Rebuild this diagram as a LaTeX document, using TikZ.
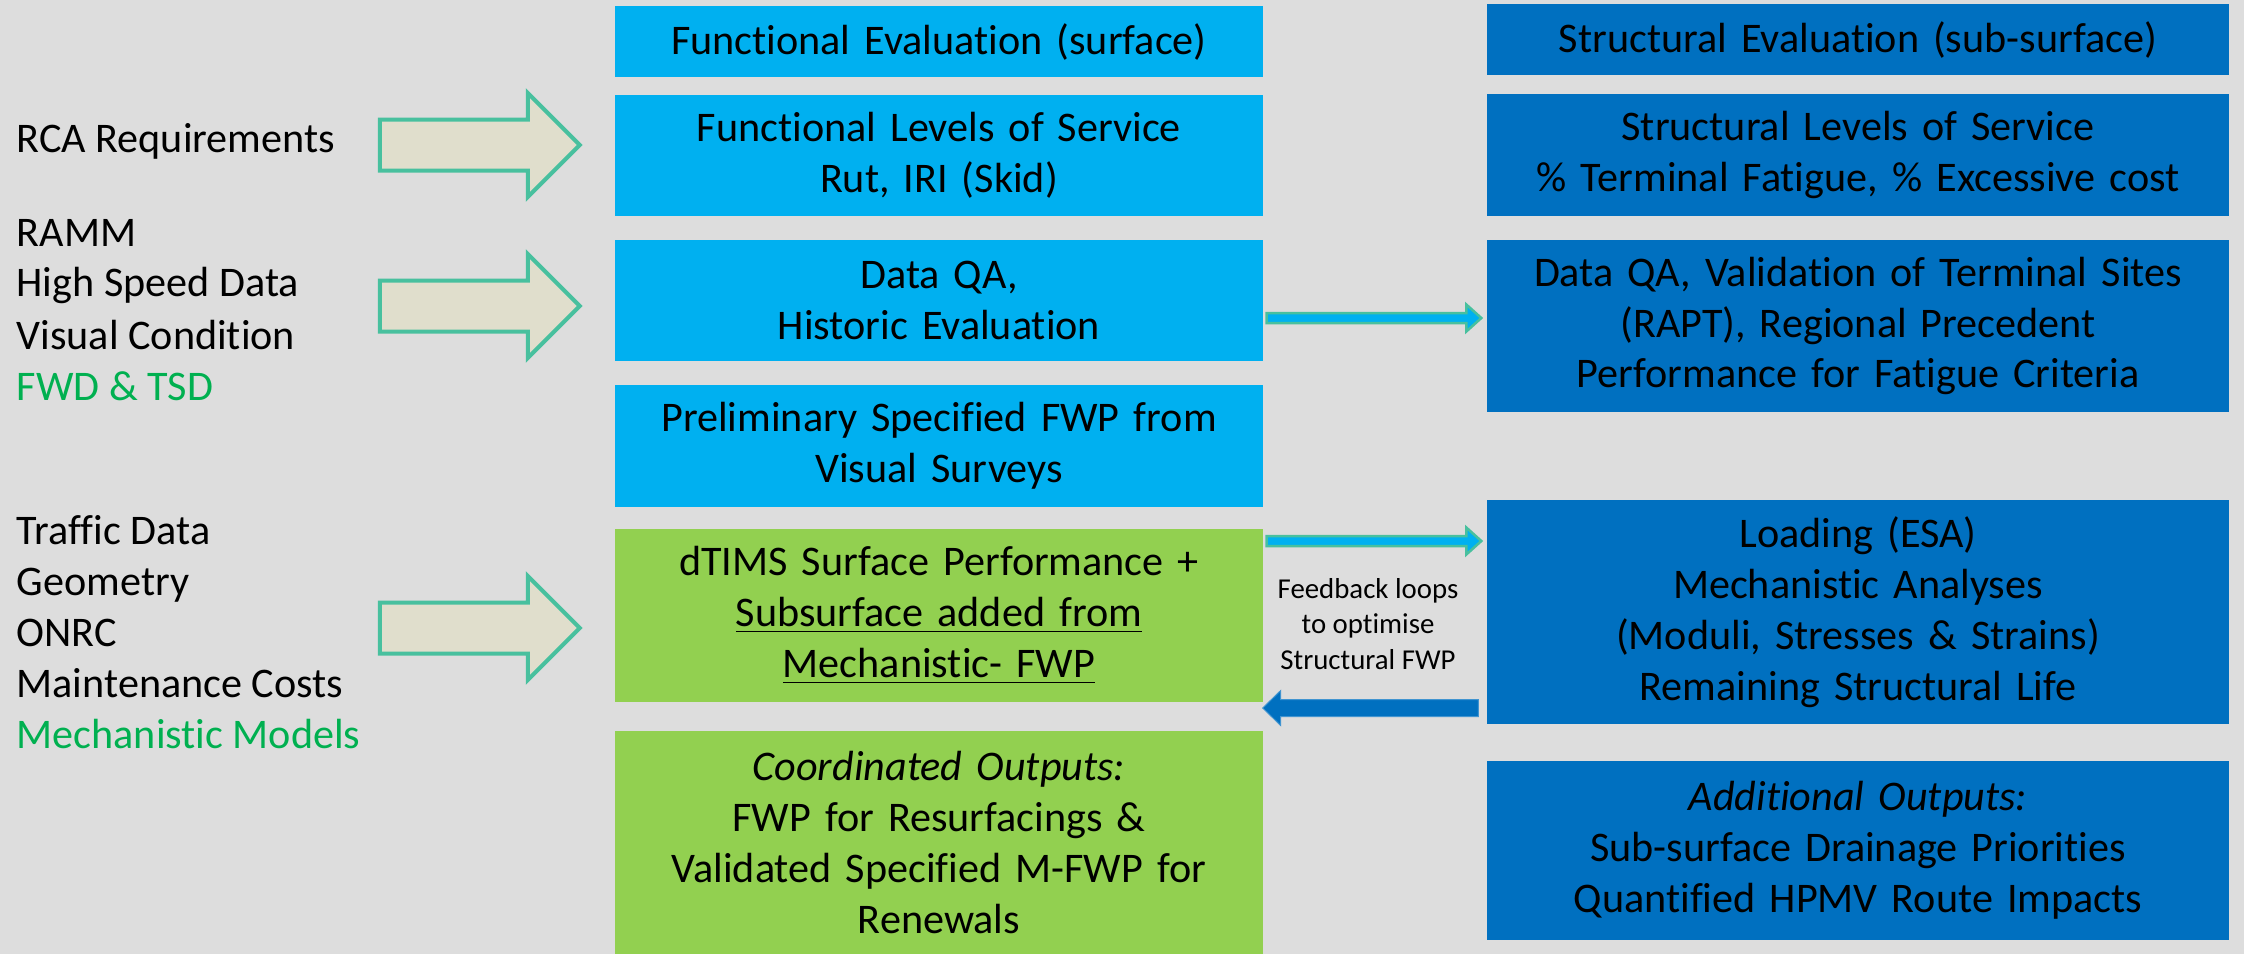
\documentclass[tikz,border=0pt]{standalone}
\usepackage{fontspec}
\setmainfont{Carlito}[Ligatures=NoCommon]
\usetikzlibrary{calc,shapes.arrows}

\definecolor{bggray}{RGB}{221,221,221}
\definecolor{skyblue}{RGB}{0,176,240}
\definecolor{deepblue}{RGB}{0,112,192}
\definecolor{leafgreen}{RGB}{146,208,80}
\definecolor{txtgreen}{RGB}{0,176,80}
\definecolor{tealline}{RGB}{72,192,158}
\definecolor{sandfill}{RGB}{224,222,204}

\tikzset{
  box/.style={rectangle, inner sep=0pt, align=center, text width=#1,
    font=\fontsize{12}{14.5}\selectfont},
  midbox/.style={box=62mm, minimum width=64.8mm, fill=skyblue},
  greenbox/.style={midbox, fill=leafgreen},
  rightbox/.style={box=72mm, minimum width=74.2mm, fill=deepblue},
  lefttxt/.style={anchor=base west, inner sep=0pt, font=\fontsize{12}{14.5}\selectfont},
  inarrow/.style={single arrow, draw=tealline, fill=sandfill, line width=0.4mm,
    minimum height=20mm, inner sep=2.35mm, single arrow head extend=2.65mm},
  fatarrow/.style n args={3}{to path={
    ($(\tikztostart)!#1!90:(\tikztotarget)$)
    -- ($($(\tikztotarget)!#3!(\tikztostart)$)!#1!-90:(\tikztostart)$)
    -- ($($(\tikztotarget)!#3!(\tikztostart)$)!#2!-90:(\tikztostart)$)
    -- (\tikztotarget)
    -- ($($(\tikztotarget)!#3!(\tikztostart)$)!#2!90:(\tikztostart)$)
    -- ($($(\tikztotarget)!#3!(\tikztostart)$)!#1!90:(\tikztostart)$)
    -- ($(\tikztostart)!#1!-90:(\tikztotarget)$) -- cycle}},
  fwdflow/.style={draw=tealline, fill=skyblue, line width=0.25mm},
  backflow/.style={draw=deepblue!75!white, fill=deepblue, line width=0.1mm},
}

\begin{document}
\begin{tikzpicture}[x=0.1mm, y=-0.1mm]
  \useasboundingbox (0,0) rectangle (2244,954);
  \fill[bggray] (0,0) rectangle (2244,954);

  % surface column
  \node[midbox, minimum height=7.1mm] (fEval) at (939,41.5) {Functional Evaluation (surface)};
  \node[midbox, minimum height=12.1mm] (fLos) at (939,155.5) {Functional Levels of Service\\Rut, IRI (Skid)};
  \node[midbox, minimum height=12.1mm] (fQA) at (939,300.5) {Data QA,\\Historic Evaluation};
  \node[midbox, minimum height=12.2mm] (fPre) at (939,446) {Preliminary Specified FWP from\\Visual Surveys};
  \node[greenbox, minimum height=17.3mm] (dtims) at (939,615.5)
    {dTIMS Surface Performance +\\\underline{Subsurface added from}\\\underline{Mechanistic- FWP}};
  \node[greenbox, minimum height=22.3mm] (coord) at (939,842.5)
    {\textit{Coordinated Outputs:}\\FWP for Resurfacings \&\\Validated Specified M-FWP for\\Renewals};

  % sub-surface column
  \node[rightbox, minimum height=7.1mm] (sEval) at (1858,39.5) {Structural Evaluation (sub-surface)};
  \node[rightbox, minimum height=12.2mm] (sLos) at (1858,155)
    {Structural Levels of Service\\\% Terminal Fatigue, \% Excessive cost};
  \node[rightbox, minimum height=17.2mm] (sQA) at (1858,326)
    {Data QA, Validation of Terminal Sites\\(RAPT), Regional Precedent\\Performance for Fatigue Criteria};
  \node[rightbox, minimum height=22.4mm] (load) at (1858,612)
    {Loading (ESA)\\Mechanistic Analyses\\(Moduli, Stresses \& Strains)\\Remaining Structural Life};
  \node[rightbox, minimum height=17.9mm] (addOut) at (1858,850.5)
    {\textit{Additional Outputs:}\\Sub-surface Drainage Priorities\\Quantified HPMV Route Impacts};

  % inputs
  \foreach \yy/\txt/\col [count=\i] in {152/RCA Requirements/black, 246/RAMM/black,
      296/High Speed Data/black, 349/Visual Condition/black, 400/FWD \& TSD/txtgreen,
      544/Traffic Data/black, 595/Geometry/black, 646/ONRC/black,
      697/Maintenance Costs/black, 748/Mechanistic Models/txtgreen}{
    \node[lefttxt, text=\col] (src\i) at (16,\yy) {\txt};
  }
  \foreach \yy [count=\i] in {145,306,628}{
    \node[inarrow] (in\i) at (467,\yy) {};
  }

  % links between the columns
  \coordinate (qaA) at ($(fQA.east)+(3,17.5)$);
  \coordinate (qaB) at ($(sQA.west)+(-5,-8)$);
  \coordinate (ldA) at ($(dtims.east)+(3,-74.5)$);
  \coordinate (ldB) at ($(load.west)+(-5,-71)$);
  \coordinate (bkA) at ($(load.west)+(-8,96)$);
  \coordinate (bkB) at ($(dtims.east)+(-1,92.5)$);
  \draw[fwdflow] (qaA) to[fatarrow={0.5mm}{1.35mm}{1.5mm}] (qaB);
  \draw[fwdflow] (ldA) to[fatarrow={0.5mm}{1.35mm}{1.5mm}] (ldB);
  \draw[backflow] (bkA) to[fatarrow={0.85mm}{1.75mm}{1.8mm}] (bkB);
  \node[align=center, inner sep=0pt, font=\fontsize{8.2}{10}\selectfont] (fbText) at (1368,624)
    {Feedback loops\\to optimise\\Structural FWP};
\end{tikzpicture}
\end{document}
